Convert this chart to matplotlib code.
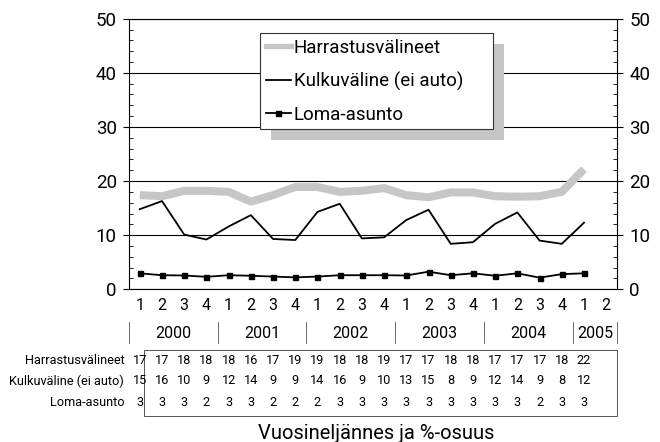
import matplotlib
matplotlib.use('Agg')
import matplotlib.pyplot as plt
from matplotlib.patches import Rectangle
from matplotlib.lines import Line2D
from matplotlib.transforms import blended_transform_factory

plt.rcParams['font.family'] = ['Roboto', 'DejaVu Sans']

# ---- data ----
quarters = ['1', '2', '3', '4'] * 5 + ['1', '2']
years = ['2000', '2001', '2002', '2003', '2004', '2005']
year_quarters = [4, 4, 4, 4, 4, 2]
series_names = ['Harrastusvälineet', 'Kulkuväline (ei auto)', 'Loma-asunto']
harrastus = [17.4, 17.2, 18.2, 18.2, 18.0, 16.2, 17.4, 18.9, 18.9, 18.0, 18.2,
             18.7, 17.4, 17.0, 17.9, 17.9, 17.2, 17.1, 17.2, 18.0, 22.2]
kulku = [14.8, 16.3, 10.1, 9.2, 11.6, 13.7, 9.3, 9.1, 14.3, 15.8, 9.4,
         9.6, 12.8, 14.7, 8.4, 8.7, 12.1, 14.2, 9.0, 8.4, 12.3]
loma = [2.95, 2.6, 2.55, 2.3, 2.6, 2.5, 2.35, 2.2, 2.35, 2.6, 2.6,
        2.6, 2.55, 3.25, 2.6, 2.95, 2.5, 2.95, 2.15, 2.8, 2.95]
table_harr = [17, 17, 18, 18, 18, 16, 17, 19, 19, 18, 18, 19, 17, 17, 18, 18, 17, 17, 17, 18, 22]
table_kulku = [15, 16, 10, 9, 12, 14, 9, 9, 14, 16, 9, 10, 13, 15, 8, 9, 12, 14, 9, 8, 12]
table_loma = [3, 3, 3, 2, 3, 3, 2, 2, 2, 3, 3, 3, 3, 3, 3, 3, 3, 3, 2, 3, 3]
xlabel = 'Vuosineljännes ja %-osuus'

GRAY = '#c6c6c6'
TFS = 9.2

fig = plt.figure(figsize=(6.6, 4.42), dpi=100)
ax = fig.add_axes([0.195, 0.3455, 0.7403, 0.6122])

xq = list(range(1, len(quarters) + 1))
xd = xq[:len(harrastus)]

ax.plot(xd, harrastus, color=GRAY, lw=5.8, solid_joinstyle='round',
        solid_capstyle='butt', zorder=3)
ax.plot(xd, kulku, color='black', lw=1.3, zorder=4)
ax.plot(xd, loma, color='black', lw=1.3, marker='s', ms=3.6, zorder=4)

ax.set_xlim(0.5, len(quarters) + 0.5)
ax.set_ylim(0, 50)
ax.set_yticks(range(0, 51, 10))
ax.set_yticks(range(0, 51, 2), minor=True)
ax.grid(axis='y', which='major', color='black', lw=0.8, zorder=1)
for s in ax.spines.values():
    s.set_linewidth(0.8)
ax.tick_params(axis='y', which='major', direction='out', length=4, width=0.8,
               left=True, right=True, labelleft=True, labelright=True,
               labelsize=13.5, pad=4.5)
ax.tick_params(axis='y', which='minor', direction='in', length=2.8, width=0.6,
               left=True, right=True)
ax.set_xticks(xq)
ax.set_xticklabels(quarters, fontsize=11.5)
ax.tick_params(axis='x', length=0, pad=6)

# year labels and separators
bt = blended_transform_factory(ax.transData, ax.transAxes)
AH = 270.6
def yf(px):
    return (289.3 - px) / AH

start = 0.5
for yr, n in zip(years, year_quarters):
    end = start + n
    ax.text((start + end) / 2, yf(333.3), yr, transform=bt, ha='center',
            va='center', fontsize=11.5, clip_on=False)
    start = end
seps = [0.5]
acc = 0.5
for n in year_quarters:
    acc += n
    seps.append(acc)
for s in seps:
    ax.add_line(Line2D([s, s], [yf(321.7), yf(343.3)], transform=bt,
                       color='#555555', lw=0.6, clip_on=False))

# table
ax.add_patch(Rectangle((1.18, yf(416)), len(quarters) + 0.5 - 1.18, yf(350) - yf(416),
                       transform=bt, fill=False, edgecolor='#555555', lw=0.7,
                       clip_on=False))
rows = [(series_names[0], table_harr, 360.7),
        (series_names[1], table_kulku, 381.0),
        (series_names[2], table_loma, 403.0)]
for name, vals, ypx in rows:
    ax.text(-0.009, yf(ypx), name, transform=ax.transAxes, ha='right',
            va='center', fontsize=TFS, clip_on=False)
    for xi, v in zip(xd, vals):
        ax.text(xi, yf(ypx), str(v), transform=bt, ha='center', va='center',
                fontsize=TFS, clip_on=False)

ax.text(0.506, yf(434), xlabel, transform=ax.transAxes, ha='center',
        va='center', fontsize=14.5, clip_on=False)

# legend
handles = [Line2D([], [], color=GRAY, lw=3.8),
           Line2D([], [], color='black', lw=1.3),
           Line2D([], [], color='black', lw=1.3, marker='s', ms=3.6)]
leg = ax.legend(handles, series_names, loc='upper left',
                bbox_to_anchor=(260 / 660, 0.5, 233 / 660, 1 - 33 / 442 - 0.5),
                bbox_transform=fig.transFigure, mode='expand', fancybox=False,
                framealpha=1, edgecolor='#333333', fontsize=13.5, handlelength=1.35,
                handletextpad=0.15, borderaxespad=0, borderpad=0.3,
                labelspacing=0.8)
leg.get_frame().set_linewidth(0.8)
leg.set_zorder(10)

fig.canvas.draw()
bb = leg.get_window_extent()
inv = fig.transFigure.inverted()
(x0, y0), (x1, y1) = inv.transform([[bb.x0 + 11, bb.y0 - 11], [bb.x1 + 11, bb.y1 - 11]])
ax.add_patch(Rectangle((x0, y0), x1 - x0, y1 - y0, transform=fig.transFigure,
                       facecolor=GRAY, edgecolor='none', zorder=9, clip_on=False))

fig.savefig('out.png', dpi=100)
